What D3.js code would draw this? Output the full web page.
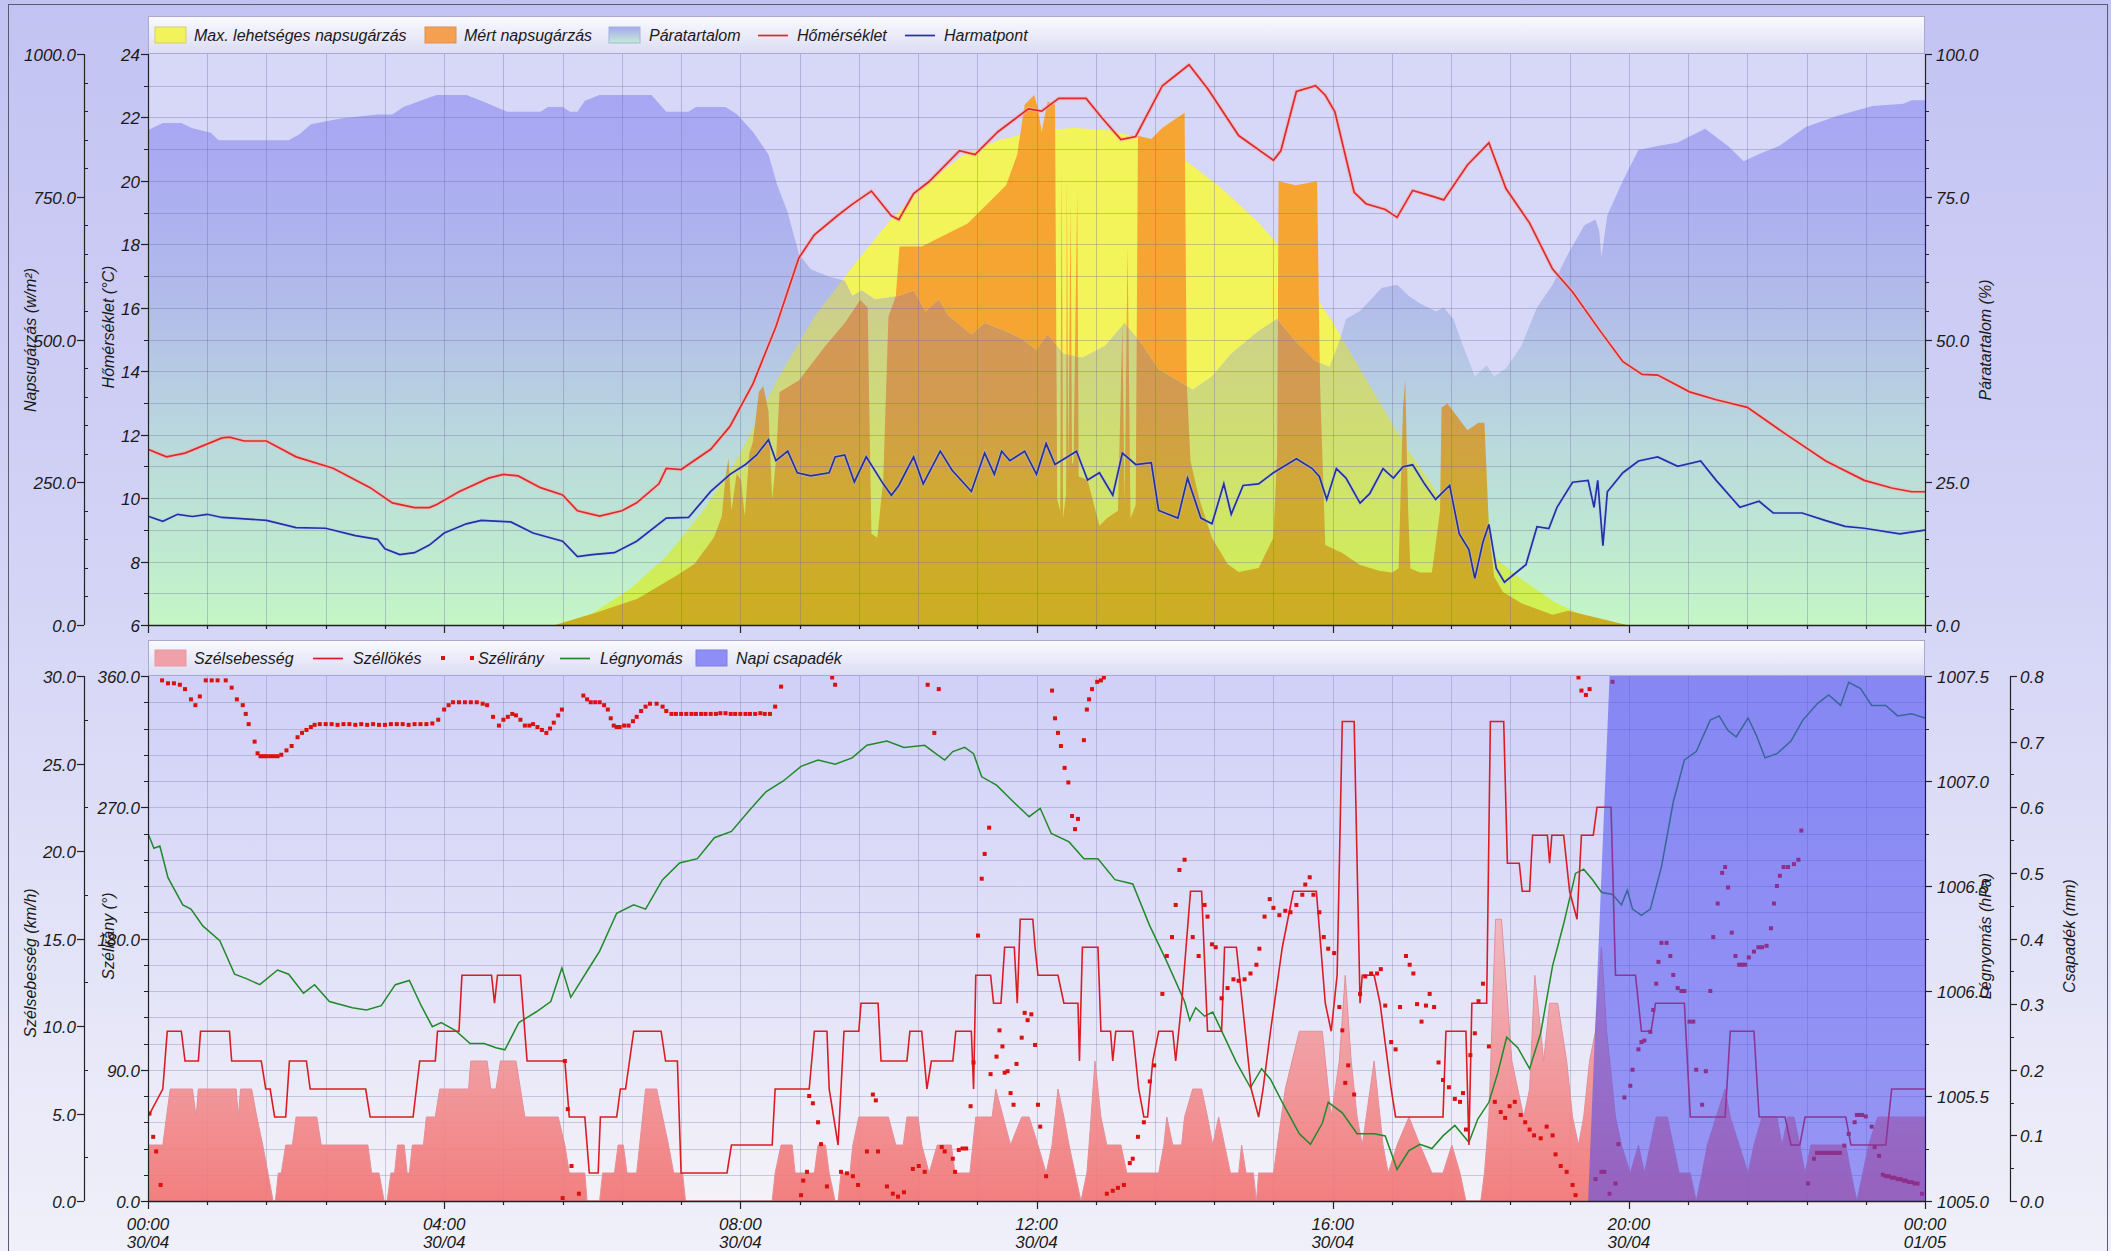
<!DOCTYPE html>
<html><head><meta charset="utf-8">
<script src="https://cdn.jsdelivr.net/npm/d3@7"></script>
<style>
html,body{margin:0;padding:0;background:#fff;overflow:hidden;}
svg text{font-family:"Liberation Sans",Arial,sans-serif;font-style:italic;fill:#1a1a1a;}
</style></head><body>
<svg id="chart" width="2111" height="1251"></svg>
<script>
// ---------------- DATA (time in hours from 00:00 30/04) ----------------
const tickHours = [0,4,8,12,16,20,24];
const tickTimes = ["00:00","04:00","08:00","12:00","16:00","20:00","00:00"];
const tickDates = ["30/04","30/04","30/04","30/04","30/04","30/04","01/05"];

const topLegend = ["Max. lehetséges napsugárzás","Mért napsugárzás","Páratartalom","Hőmérséklet","Harmatpont"];
const bottomLegend = ["Szélsebesség","Széllökés","Szélirány","Légnyomás","Napi csapadék"];

// Páratartalom (%)
const humidity = [[0,86.7],[0.2,87.9],[0.45,87.9],[0.6,87],[0.85,86.2],[0.95,84.9],[1.9,84.9],[2.05,86],[2.2,87.7],[2.6,88.7],[3.1,89.4],[3.3,89.4],[3.45,90.7],[3.8,92.4],[3.9,92.8],[4.3,92.8],[4.5,91.8],[4.7,90.7],[4.85,89.9],[5.3,89.9],[5.4,90.7],[5.6,90.7],[5.7,89.9],[5.8,89.9],[5.9,91.8],[6.1,92.8],[6.8,92.8],[7.0,89.9],[7.3,89.9],[7.4,90.7],[7.8,90.7],[7.95,89.5],[8.17,86.4],[8.38,82.4],[8.5,77],[8.64,72.3],[8.79,65],[8.95,62.3],[9.2,61],[9.41,60.3],[9.51,57.6],[9.64,58.6],[9.82,57],[10.14,57.6],[10.34,58.6],[10.5,54.9],[10.68,57],[10.81,54.2],[11.12,50.9],[11.3,52.9],[11.58,51.5],[11.79,50.2],[12.0,48.2],[12.15,50.9],[12.36,47.5],[12.62,46.8],[12.93,48.9],[13.19,52.9],[13.44,48.9],[13.65,44.8],[13.91,42.8],[14.11,41.2],[14.37,43.5],[14.63,47.5],[15.0,51.5],[15.25,53.6],[15.51,49.5],[15.77,46.2],[15.96,45.2],[16.1,50],[16.18,53.6],[16.37,55],[16.66,59],[16.87,59.6],[17.03,57.6],[17.18,56.3],[17.4,54.9],[17.5,55.6],[17.63,53.6],[17.76,48.9],[17.92,43.5],[18.08,45.5],[18.18,43.5],[18.34,44.9],[18.55,48.9],[18.76,55.6],[18.97,59.6],[19.18,65],[19.4,70],[19.55,71],[19.6,69],[19.63,64.4],[19.71,71.8],[19.92,77.8],[20.13,83.2],[20.39,83.9],[20.66,84.5],[21.03,86.9],[21.34,83.9],[21.55,81.2],[21.76,82.5],[22.03,83.9],[22.39,87.2],[22.82,89.2],[23.29,90.9],[23.71,91.3],[23.82,91.9],[24,91.9]];

// Hőmérséklet (°C)
const temperature = [[0,11.54],[0.25,11.3],[0.5,11.42],[1.0,11.9],[1.1,11.92],[1.3,11.8],[1.6,11.8],[2.0,11.3],[2.5,10.94],[3.0,10.33],[3.3,9.85],[3.6,9.7],[3.8,9.7],[3.9,9.8],[4.2,10.2],[4.6,10.63],[4.8,10.75],[5.0,10.7],[5.3,10.33],[5.6,10.1],[5.8,9.6],[6.1,9.43],[6.4,9.6],[6.6,9.85],[6.9,10.45],[7.0,10.94],[7.2,10.9],[7.6,11.54],[7.86,12.26],[8.17,13.6],[8.48,15.4],[8.79,17.57],[9.0,18.3],[9.31,18.9],[9.51,19.26],[9.77,19.68],[10.04,18.9],[10.14,18.78],[10.34,19.6],[10.55,19.98],[10.96,20.95],[11.17,20.83],[11.48,21.55],[11.89,22.27],[12.07,22.2],[12.3,22.6],[12.67,22.6],[12.88,22.0],[13.14,21.3],[13.34,21.4],[13.7,23.0],[14.06,23.66],[14.32,22.88],[14.73,21.43],[15.2,20.65],[15.3,20.95],[15.51,22.82],[15.77,23.0],[15.9,22.7],[16.03,22.18],[16.29,19.64],[16.45,19.28],[16.71,19.1],[16.87,18.85],[17.08,19.7],[17.34,19.52],[17.5,19.4],[17.82,20.5],[18.11,21.2],[18.34,19.76],[18.66,18.67],[18.97,17.22],[19.24,16.5],[19.61,15.28],[19.92,14.3],[20.18,13.9],[20.39,13.88],[20.82,13.35],[21.18,13.1],[21.6,12.86],[22.13,12.0],[22.66,11.17],[23.18,10.56],[23.55,10.32],[23.82,10.2],[24,10.2]];

// Harmatpont (°C)
const dewpoint = [[0,9.43],[0.2,9.27],[0.4,9.49],[0.6,9.42],[0.8,9.49],[1.0,9.39],[1.6,9.3],[2.0,9.07],[2.4,9.05],[2.8,8.82],[3.1,8.7],[3.2,8.4],[3.4,8.22],[3.6,8.28],[3.8,8.52],[4.0,8.9],[4.3,9.19],[4.5,9.3],[4.9,9.25],[5.2,8.9],[5.6,8.64],[5.8,8.16],[6.0,8.22],[6.3,8.28],[6.6,8.64],[7.0,9.37],[7.3,9.39],[7.6,10.21],[7.86,10.75],[8.07,11.06],[8.22,11.36],[8.38,11.84],[8.48,11.18],[8.64,11.48],[8.77,10.8],[8.95,10.7],[9.2,10.8],[9.28,11.3],[9.41,11.36],[9.54,10.51],[9.7,11.3],[9.93,10.45],[10.04,10.09],[10.14,10.4],[10.34,11.3],[10.47,10.45],[10.7,11.48],[10.86,10.88],[11.12,10.21],[11.3,11.42],[11.43,10.75],[11.53,11.48],[11.64,11.18],[11.84,11.48],[12.0,10.75],[12.13,11.72],[12.25,11.06],[12.54,11.48],[12.69,10.57],[12.85,10.8],[13.03,10.09],[13.16,11.42],[13.34,11.06],[13.55,11.12],[13.65,9.61],[13.91,9.37],[14.04,10.63],[14.22,9.37],[14.37,9.19],[14.53,10.45],[14.63,9.49],[14.79,10.4],[15.0,10.45],[15.2,10.8],[15.51,11.24],[15.72,10.94],[15.82,10.68],[15.92,9.96],[16.05,10.93],[16.18,10.63],[16.37,9.84],[16.5,10.14],[16.68,10.93],[16.82,10.63],[16.95,10.99],[17.08,11.05],[17.24,10.45],[17.39,9.96],[17.58,10.4],[17.71,8.87],[17.84,8.38],[17.92,7.47],[18.03,8.62],[18.11,9.17],[18.21,7.78],[18.32,7.35],[18.45,7.6],[18.61,7.9],[18.76,9.1],[18.92,9.04],[19.03,9.71],[19.24,10.5],[19.45,10.56],[19.53,9.71],[19.58,10.56],[19.65,8.5],[19.71,10.2],[19.92,10.8],[20.13,11.17],[20.39,11.3],[20.66,11.0],[20.97,11.17],[21.18,10.56],[21.5,9.71],[21.76,9.9],[21.95,9.53],[22.34,9.53],[22.66,9.29],[22.92,9.11],[23.18,9.05],[23.66,8.87],[24,8.99]];

// Max. lehetséges napsugárzás (W/m²)
const maxRadiation = [[5.5,0],[6.0,20],[6.5,62],[7.0,120],[7.5,200],[8.0,300],[8.5,430],[9.0,540],[9.5,625],[10.0,705],[10.5,772],[11.0,822],[11.5,850],[12.0,864],[12.5,871],[13.0,866],[13.5,850],[14.0,815],[14.5,765],[15.0,705],[15.5,630],[16.0,530],[16.5,420],[17.0,310],[17.5,215],[18.0,140],[18.5,85],[19.0,40],[19.5,10],[20.0,0]];

// Mért napsugárzás (W/m²)
const radiation = [[5.5,0],[6.09,23],[6.61,46],[7.13,86],[7.38,107],[7.64,153],[7.75,190],[7.8,260],[7.84,292],[7.88,200],[7.95,265],[8.01,254],[8.06,190],[8.12,300],[8.17,321],[8.25,408],[8.31,418],[8.38,375],[8.43,220],[8.48,287],[8.53,408],[8.79,428],[9.15,489],[9.41,529],[9.62,569],[9.72,556],[9.77,160],[9.85,153],[9.93,254],[10.0,540],[10.1,576],[10.15,663],[10.45,663],[10.76,683],[11.07,703],[11.38,743],[11.59,770],[11.74,824],[11.84,911],[11.97,928],[12.02,904],[12.07,864],[12.15,917],[12.25,911],[12.28,220],[12.32,200],[12.34,804],[12.36,187],[12.4,230],[12.41,790],[12.43,254],[12.46,743],[12.48,280],[12.5,287],[12.55,757],[12.57,260],[12.69,254],[12.85,174],[12.95,187],[13.1,200],[13.16,529],[13.19,210],[13.23,663],[13.27,187],[13.34,210],[13.37,857],[13.55,851],[13.7,871],[13.85,884],[14.0,897],[14.03,422],[14.08,287],[14.2,220],[14.37,153],[14.58,107],[14.73,93],[15.0,100],[15.2,153],[15.25,300],[15.27,777],[15.5,770],[15.79,777],[15.83,420],[15.9,140],[16.13,126],[16.37,105],[16.63,95],[16.8,92],[16.89,99],[16.95,380],[16.98,430],[17.02,200],[17.05,99],[17.18,92],[17.34,92],[17.45,200],[17.47,381],[17.55,388],[17.82,341],[17.97,354],[18.05,354],[18.11,173],[18.18,85],[18.3,58],[18.55,38],[18.97,18],[19.18,25],[19.5,15],[19.97,0]];

// Szélsebesség (km/h)
const windSpeed = [[0,3.2],[0.2,3.2],[0.3,6.4],[0.6,6.4],[0.65,4.8],[0.68,6.4],[1.19,6.4],[1.22,4.8],[1.25,6.4],[1.4,6.4],[1.47,4.8],[1.55,3.2],[1.62,1.6],[1.69,0],[1.72,0],[1.76,1.6],[1.8,1.6],[1.86,3.2],[1.95,3.2],[2.0,4.8],[2.28,4.8],[2.34,3.2],[2.97,3.2],[3.02,1.6],[3.12,1.6],[3.19,0],[3.23,0],[3.28,1.6],[3.33,1.6],[3.37,3.2],[3.46,3.2],[3.5,1.6],[3.53,1.6],[3.57,3.2],[3.72,3.2],[3.76,4.8],[3.88,4.8],[3.94,6.4],[4.33,6.4],[4.36,8.0],[4.58,8.0],[4.63,6.4],[4.7,6.4],[4.76,8.0],[4.97,8.0],[5.03,6.4],[5.09,4.8],[5.54,4.8],[5.63,3.2],[5.69,1.6],[5.9,1.6],[5.93,0],[6.1,0],[6.14,1.6],[6.3,1.6],[6.35,3.2],[6.42,3.2],[6.47,1.6],[6.6,1.6],[6.68,4.8],[6.72,6.4],[6.87,6.4],[6.95,4.8],[7.03,3.2],[7.1,1.6],[7.22,1.6],[7.26,0],[8.43,0],[8.47,1.6],[8.55,3.2],[8.7,3.2],[8.74,1.6],[9.0,1.6],[9.05,3.2],[9.15,3.2],[9.2,1.6],[9.28,0],[9.32,0],[9.36,1.6],[9.48,1.6],[9.52,3.2],[9.6,4.8],[10.0,4.8],[10.1,3.2],[10.2,3.2],[10.25,4.8],[10.4,4.8],[10.45,3.2],[10.55,1.6],[10.66,3.2],[10.85,3.2],[10.9,1.6],[11.1,1.6],[11.18,4.8],[11.4,4.8],[11.45,6.4],[11.55,4.8],[11.65,3.2],[11.8,4.8],[11.9,4.8],[12.02,3.2],[12.13,1.6],[12.21,3.2],[12.29,6.4],[12.37,4.8],[12.44,3.2],[12.52,1.6],[12.6,0],[12.68,1.6],[12.71,3.2],[12.79,8.0],[12.87,4.8],[12.95,3.2],[13.14,3.2],[13.22,1.6],[13.65,1.6],[13.72,3.2],[13.76,4.8],[13.84,3.2],[13.96,3.2],[14.0,4.8],[14.11,6.4],[14.23,6.4],[14.31,4.8],[14.38,3.2],[14.46,4.8],[14.54,3.2],[14.62,1.6],[14.73,1.6],[14.77,3.2],[14.83,1.6],[14.93,1.6],[14.97,0],[15.0,1.6],[15.2,1.6],[15.36,6.4],[15.55,9.7],[15.86,9.7],[15.98,4.8],[16.09,8.0],[16.17,12.9],[16.25,8.0],[16.33,4.8],[16.4,3.2],[16.56,8.0],[16.68,3.2],[16.75,1.6],[16.87,3.2],[17.03,4.8],[17.18,3.2],[17.34,1.6],[17.49,1.6],[17.61,3.2],[17.72,1.6],[17.8,0],[18.0,0],[18.05,1.6],[18.11,4.8],[18.2,16.1],[18.28,16.1],[18.42,8.0],[18.5,6.4],[18.58,4.8],[18.66,6.4],[18.73,12.9],[18.85,8.0],[18.93,11.3],[19.04,11.3],[19.16,8.0],[19.24,4.8],[19.32,3.2],[19.39,4.8],[19.47,8.0],[19.55,9.7],[19.63,14.5],[19.7,9.7],[19.82,4.8],[19.9,3.2],[20.02,1.6],[20.13,3.2],[20.21,1.6],[20.29,3.2],[20.37,4.8],[20.52,4.8],[20.6,3.2],[20.68,1.6],[20.83,1.6],[20.91,0],[20.99,1.6],[21.06,3.2],[21.18,4.8],[21.3,6.4],[21.37,4.8],[21.49,3.2],[21.61,1.6],[21.69,3.2],[21.8,4.8],[22.0,4.8],[22.07,3.2],[22.15,4.8],[22.23,4.8],[22.31,3.2],[22.38,1.6],[22.46,3.2],[22.93,3.2],[23.0,1.6],[23.08,0],[23.16,1.6],[23.24,3.2],[23.36,4.8],[24,4.8]];

// Széllökés (km/h)
const windGust = [[0,4.8],[0.2,6.4],[0.26,9.7],[0.45,9.7],[0.5,8.0],[0.68,8.0],[0.71,9.7],[1.1,9.7],[1.13,8.0],[1.53,8.0],[1.59,6.4],[1.65,6.4],[1.71,4.8],[1.86,4.8],[1.91,8.0],[2.14,8.0],[2.19,6.4],[2.94,6.4],[3.0,4.8],[3.58,4.8],[3.67,8.0],[3.88,8.0],[3.91,9.7],[4.2,9.7],[4.24,12.9],[4.64,12.9],[4.68,11.3],[4.72,12.9],[5.03,12.9],[5.12,8.0],[5.63,8.0],[5.69,4.8],[5.9,4.8],[5.96,1.6],[6.08,1.6],[6.11,4.8],[6.33,4.8],[6.38,6.4],[6.45,6.4],[6.56,9.7],[6.93,9.7],[6.99,8.0],[7.15,8.0],[7.2,1.6],[7.82,1.6],[7.88,3.2],[8.43,3.2],[8.47,6.4],[8.93,6.4],[9.0,9.7],[9.17,9.7],[9.2,6.4],[9.32,3.2],[9.4,9.7],[9.6,9.7],[9.63,11.3],[9.86,11.3],[9.9,8.0],[10.25,8.0],[10.29,9.7],[10.45,9.7],[10.52,6.4],[10.58,8.0],[10.87,8.0],[10.91,9.7],[11.12,9.7],[11.15,6.4],[11.18,12.9],[11.38,12.9],[11.42,11.3],[11.52,11.3],[11.57,14.5],[11.7,14.5],[11.74,11.3],[11.78,16.1],[11.95,16.1],[11.98,14.5],[12.02,12.9],[12.29,12.9],[12.37,11.3],[12.56,11.3],[12.58,8.0],[12.62,14.5],[12.83,14.5],[12.87,9.7],[13.0,9.7],[13.03,8.0],[13.07,9.7],[13.3,9.7],[13.38,6.4],[13.45,4.8],[13.5,4.8],[13.57,8.0],[13.65,9.7],[13.84,9.7],[13.88,8.0],[13.96,11.3],[14.08,17.7],[14.23,17.7],[14.31,9.7],[14.5,9.7],[14.54,14.5],[14.7,14.5],[14.78,11.3],[14.9,6.4],[15.0,4.8],[15.06,6.4],[15.16,9.7],[15.32,14.5],[15.47,17.7],[15.78,17.7],[15.9,11.3],[15.98,9.7],[16.06,12.9],[16.13,27.4],[16.29,27.4],[16.37,11.3],[16.4,12.9],[16.56,12.9],[16.64,11.3],[16.79,6.4],[16.85,4.8],[17.49,4.8],[17.53,9.7],[17.8,9.7],[17.84,3.2],[17.88,11.3],[18.08,11.3],[18.13,27.4],[18.31,27.4],[18.36,19.3],[18.52,19.3],[18.56,17.7],[18.66,17.7],[18.7,20.9],[18.9,20.9],[18.93,19.3],[18.96,20.9],[19.12,20.9],[19.2,17.7],[19.3,16.1],[19.36,20.9],[19.52,20.9],[19.57,22.5],[19.76,22.5],[19.82,12.9],[20.09,12.9],[20.17,9.7],[20.3,9.7],[20.36,11.3],[20.75,11.3],[20.83,4.8],[21.3,4.8],[21.37,9.7],[21.69,9.7],[21.76,4.8],[22.11,4.8],[22.19,3.2],[22.31,3.2],[22.38,4.8],[22.93,4.8],[23.0,3.2],[23.47,3.2],[23.55,6.4],[24,6.4]];

// Szélirány (°)
const windDir = [[0.02,60],[0.07,44],[0.11,34],[0.17,11],[0.19,357],[0.27,355],[0.35,355],[0.43,354],[0.5,351],[0.58,344],[0.64,340],[0.7,346],[0.78,357],[0.86,357],[0.94,357],[1.05,357],[1.13,352],[1.2,344],[1.28,340],[1.32,334],[1.36,327],[1.44,315],[1.48,307],[1.52,305],[1.56,305],[1.6,305],[1.65,305],[1.7,305],[1.75,305],[1.8,306],[1.87,309],[1.94,312],[2.02,318],[2.08,321],[2.14,323],[2.2,325],[2.25,326.5],[2.32,327],[2.4,327],[2.48,327],[2.56,326.5],[2.64,327],[2.72,327],[2.8,326.5],[2.88,327],[2.96,326.5],[3.04,327],[3.12,326.5],[3.2,326.5],[3.28,327],[3.36,327],[3.44,327],[3.52,326.5],[3.6,327],[3.68,327],[3.76,327],[3.84,327.5],[3.92,330],[4.0,337],[4.06,340],[4.12,342],[4.2,342],[4.28,342],[4.36,342],[4.44,342],[4.52,341],[4.58,340],[4.66,332],[4.74,326],[4.8,330],[4.86,332],[4.92,334],[4.97,333],[5.03,330],[5.09,326],[5.15,326],[5.2,327],[5.26,325],[5.32,323],[5.38,321],[5.43,324],[5.48,328],[5.54,333],[5.59,337],[5.63,96],[5.67,63],[5.72,24],[5.6,2],[5.82,5],[5.88,346.6],[5.93,344],[5.98,342],[6.04,342],[6.1,342],[6.16,340],[6.21,337],[6.25,331],[6.29,326],[6.33,325],[6.37,325],[6.43,326],[6.49,326],[6.55,329],[6.6,332],[6.66,336],[6.72,339],[6.78,341],[6.87,341],[6.95,339],[7.0,336],[7.07,334],[7.13,334],[7.2,334],[7.27,334],[7.34,334],[7.4,334],[7.47,334],[7.53,334],[7.6,334],[7.67,334],[7.73,334.5],[7.8,334.5],[7.87,334],[7.93,334],[8.0,334],[8.07,334],[8.13,334],[8.2,334],[8.27,334.5],[8.33,334],[8.4,334],[8.47,339],[8.55,352.7],[8.82,4],[8.85,14],[8.9,20],[8.93,72],[8.98,67],[9.05,54],[9.09,39],[9.17,10],[9.24,359],[9.28,354],[9.36,20],[9.44,19],[9.52,17],[9.59,11],[9.71,34],[9.79,73],[9.83,69],[9.86,34],[9.98,10],[10.06,5],[10.13,3],[10.21,6],[10.33,22],[10.41,24],[10.49,20],[10.53,354],[10.62,321],[10.68,351],[10.72,37],[10.76,34],[10.87,29],[10.9,20],[10.95,35],[11.0,36],[11.05,36],[11.11,65],[11.15,95],[11.21,182],[11.26,221],[11.3,238],[11.36,256],[11.38,87],[11.46,99],[11.5,117],[11.54,106],[11.57,88],[11.61,89],[11.65,74],[11.69,66],[11.73,94],[11.8,112],[11.84,129],[11.88,124],[11.93,128],[11.98,107],[12.02,66],[12.05,51],[12.13,17],[12.21,350],[12.25,331],[12.29,321],[12.33,312],[12.38,297],[12.43,287],[12.48,264],[12.52,255],[12.56,262],[12.64,316],[12.68,337],[12.71,344],[12.75,351],[12.82,356],[12.87,357],[12.91,359],[12.95,5],[13.03,7],[13.1,9],[13.18,11],[13.26,26],[13.3,29],[13.37,44],[13.45,54],[13.53,82],[13.59,93],[13.7,142],[13.76,168],[13.83,181],[13.88,203],[13.93,227],[14.0,234],[14.11,181],[14.19,168],[14.27,203],[14.31,195],[14.37,176],[14.42,174],[14.5,139],[14.58,146],[14.66,152],[14.73,151],[14.81,152],[14.89,156],[14.97,162],[15.01,173],[15.08,195],[15.15,207],[15.2,201],[15.28,196],[15.36,199],[15.43,198],[15.51,203],[15.59,210],[15.63,217],[15.69,222],[15.74,210],[15.82,198],[15.88,181],[15.94,173],[16.02,170],[16.09,133],[16.13,117],[16.17,81],[16.21,93],[16.29,73],[16.37,142],[16.44,154],[16.52,156],[16.6,156],[16.65,159],[16.71,134],[16.79,109],[16.85,104],[16.91,133],[16.99,168],[17.04,162],[17.09,156],[17.14,135],[17.2,123],[17.26,134],[17.31,142],[17.37,133],[17.43,95],[17.49,83],[17.57,78],[17.65,70],[17.72,68],[17.76,74],[17.8,49],[17.86,100],[17.92,115],[17.97,137],[18.03,149],[18.11,106],[18.19,68],[18.27,61],[18.33,57],[18.39,65],[18.46,68],[18.54,59],[18.6,54],[18.66,49],[18.72,45],[18.81,43],[18.89,51],[18.97,45],[19.01,32],[19.08,24],[19.16,20],[19.24,11],[19.28,4],[19.32,359],[19.36,350],[19.42,347],[19.47,351],[19.55,15],[19.63,20],[19.67,20],[19.74,5],[19.78,356],[19.82,12],[19.86,39],[19.94,71],[20.02,79],[20.05,90],[20.13,104],[20.17,109],[20.21,110],[20.29,116],[20.33,131],[20.37,149],[20.4,164],[20.44,177],[20.51,177],[20.56,168],[20.6,155],[20.66,146],[20.71,144],[20.75,144],[20.82,123],[20.87,123],[20.91,90],[20.99,66],[21.04,89],[21.1,144],[21.14,181],[21.2,204],[21.26,225],[21.3,229],[21.34,215],[21.39,184],[21.44,168],[21.49,162],[21.53,162],[21.57,162],[21.62,167],[21.69,171],[21.75,174],[21.8,174],[21.86,175],[21.92,187],[21.96,204],[22.0,216],[22.04,223],[22.09,229],[22.15,229],[22.23,231],[22.29,234],[22.33,254],[22.42,12],[22.5,29],[22.54,33],[22.58,33],[22.62,33],[22.66,33],[22.7,33],[22.74,33],[22.77,33],[22.81,33],[22.85,33],[22.91,38],[22.97,46],[23.05,54],[23.08,59],[23.12,59],[23.15,59],[23.2,58],[23.28,51],[23.32,37],[23.38,31],[23.43,18],[23.47,17],[23.51,17],[23.55,16],[23.59,16],[23.63,15],[23.67,15],[23.71,14],[23.74,14],[23.78,13],[23.82,13],[23.86,12],[23.9,12],[23.96,5]];

// Légnyomás (hPa)
const pressure = [[0,1006.75],[0.08,1006.68],[0.16,1006.69],[0.27,1006.54],[0.47,1006.41],[0.58,1006.39],[0.74,1006.31],[0.97,1006.24],[1.17,1006.08],[1.32,1006.06],[1.51,1006.03],[1.75,1006.1],[1.9,1006.08],[2.1,1005.99],[2.25,1006.03],[2.45,1005.95],[2.76,1005.92],[2.95,1005.91],[3.15,1005.93],[3.34,1006.03],[3.53,1006.05],[3.69,1005.93],[3.84,1005.83],[3.96,1005.85],[4.16,1005.81],[4.35,1005.75],[4.54,1005.75],[4.7,1005.73],[4.82,1005.72],[5.01,1005.85],[5.24,1005.9],[5.44,1005.95],[5.59,1006.11],[5.71,1005.97],[5.94,1006.1],[6.1,1006.19],[6.33,1006.37],[6.56,1006.41],[6.72,1006.39],[6.95,1006.53],[7.18,1006.61],[7.42,1006.63],[7.65,1006.73],[7.88,1006.76],[8.12,1006.86],[8.35,1006.95],[8.58,1007.0],[8.82,1007.07],[9.05,1007.1],[9.28,1007.08],[9.51,1007.11],[9.71,1007.17],[9.98,1007.19],[10.21,1007.16],[10.49,1007.17],[10.64,1007.13],[10.76,1007.1],[10.87,1007.14],[11.03,1007.16],[11.15,1007.13],[11.26,1007.02],[11.46,1006.98],[11.69,1006.9],[11.9,1006.83],[12.05,1006.87],[12.2,1006.75],[12.44,1006.71],[12.64,1006.63],[12.83,1006.63],[13.06,1006.53],[13.3,1006.51],[13.53,1006.31],[13.76,1006.14],[14.0,1005.95],[14.07,1005.86],[14.15,1005.92],[14.27,1005.88],[14.38,1005.9],[14.5,1005.81],[14.7,1005.66],[14.89,1005.54],[15.04,1005.63],[15.16,1005.58],[15.32,1005.47],[15.55,1005.32],[15.7,1005.27],[15.86,1005.37],[15.94,1005.47],[16.13,1005.42],[16.33,1005.32],[16.56,1005.32],[16.71,1005.31],[16.87,1005.15],[17.03,1005.24],[17.18,1005.27],[17.34,1005.25],[17.49,1005.31],[17.65,1005.36],[17.84,1005.28],[17.96,1005.39],[18.11,1005.47],[18.23,1005.61],[18.35,1005.78],[18.5,1005.73],[18.66,1005.63],[18.81,1005.8],[18.97,1006.12],[19.12,1006.32],[19.28,1006.56],[19.39,1006.58],[19.51,1006.53],[19.63,1006.47],[19.78,1006.46],[19.9,1006.41],[19.98,1006.48],[20.05,1006.39],[20.17,1006.36],[20.29,1006.39],[20.44,1006.59],[20.6,1006.9],[20.75,1007.1],[20.91,1007.14],[21.1,1007.29],[21.22,1007.31],[21.34,1007.24],[21.45,1007.21],[21.61,1007.3],[21.72,1007.22],[21.84,1007.11],[22.0,1007.13],[22.19,1007.19],[22.35,1007.29],[22.55,1007.37],[22.7,1007.41],[22.86,1007.36],[22.97,1007.47],[23.13,1007.44],[23.28,1007.36],[23.47,1007.36],[23.63,1007.31],[23.82,1007.32],[24,1007.3]];

// Napi csapadék (mm)
const dailyRain = [[19.45,0],[19.74,0.8],[24,0.8]];

// ---------------- LAYOUT ----------------
const W=2111,H=1251;
const PL=148, PR=1925, T1=54, B1=625, T2=676, B2=1201;
const svg=d3.select('#chart');
const defs=svg.append('defs');
function grad(id, stops, y1, y2){
  const g=defs.append('linearGradient').attr('id',id).attr('gradientUnits','userSpaceOnUse')
    .attr('x1',0).attr('x2',0).attr('y1',y1).attr('y2',y2);
  stops.forEach(s=>g.append('stop').attr('offset',s[0]).attr('stop-color',s[1]).attr('stop-opacity',s[2]===undefined?1:s[2]));
}
grad('gPage',[[0,'#c3c3f3'],[0.45,'#d3d3f6'],[1,'#f0f0fa']],0,H);
grad('gHum',[[0,'#a4a4f4'],[0.18,'#aaaaf2'],[0.44,'#b2bcea'],[0.65,'#b9d6de'],[0.85,'#bee8d2'],[1,'#c4f6c6']],T1,B1);
grad('gYelUnder',[[0,'#c4c0b4'],[0.4,'#cccc90'],[0.7,'#d0e070'],[1,'#d0f250']],T1,B1);
grad('gOrUnder',[[0,'#cc8c78'],[0.4,'#d4945e'],[0.62,'#d29c4e'],[0.78,'#cfaa30'],[1,'#ccae22']],T1,B1);
grad('gBot',[[0,'#d0d0f8'],[0.5,'#e0e0f8'],[1,'#f4f2f8']],T2,B2);
grad('gWind',[[0,'#f8d4da',0.85],[0.45,'#f2b2b8',0.85],[1,'#f27272',0.9]],T2,B2);
grad('gLeg',[[0,'#fafaff'],[1,'#dcdcf4']],0,1);
defs.select('#gLeg').attr('gradientUnits','objectBoundingBox');
grad('gHumSw',[[0,'#a8a8f0'],[1,'#c4ecd4']],0,1);
defs.select('#gHumSw').attr('gradientUnits','objectBoundingBox');

// scales
const x=d3.scaleLinear([0,24],[PL,PR]);
const yRad=d3.scaleLinear([0,1000],[B1,T1]);
const yTemp=d3.scaleLinear([6,24],[B1,T1]);
const yHum=d3.scaleLinear([0,100],[B1,T1]);
const yWs=d3.scaleLinear([0,30],[B2,T2]);
const yDir=d3.scaleLinear([0,360],[B2,T2]);
const yP=d3.scaleLinear([1005,1007.5],[B2,T2]);
const yRain=d3.scaleLinear([0,0.8],[B2,T2]);

// page background
svg.append('rect').attr('width',W).attr('height',H).attr('fill','url(#gPage)');
svg.append('rect').attr('x',8.5).attr('y',4.5).attr('width',2099).attr('height',1250).attr('fill','none').attr('stroke','#5a5a70').attr('stroke-width',1);

// clip paths
defs.append('clipPath').attr('id','cTop').append('rect').attr('x',PL).attr('y',T1).attr('width',PR-PL).attr('height',B1-T1);
defs.append('clipPath').attr('id','cBot').append('rect').attr('x',PL).attr('y',T2).attr('width',PR-PL).attr('height',B2-T2);
const humIn=d3.area().x(d=>x(d[0])).y0(B1).y1(d=>yHum(d[1]));
const humOut=d3.area().x(d=>x(d[0])).y0(T1-2).y1(d=>yHum(d[1]));
defs.append('clipPath').attr('id','cHumIn').append('path').attr('d',humIn(humidity));
defs.append('clipPath').attr('id','cHumOut').append('path').attr('d',humOut(humidity));

// ---------- TOP PLOT ----------
const topPlot=svg.append('g').attr('clip-path','url(#cTop)');
topPlot.append('rect').attr('x',PL).attr('y',T1).attr('width',PR-PL).attr('height',B1-T1).attr('fill','#d7d7f7');
topPlot.append('path').attr('d',humIn(humidity)).attr('fill','url(#gHum)');
const radArea=d3.area().x(d=>x(d[0])).y0(B1).y1(d=>yRad(d[1]));
const gOut=topPlot.append('g').attr('clip-path','url(#cHumOut)');
const gIn=topPlot.append('g').attr('clip-path','url(#cHumIn)');
gOut.append('path').attr('d',radArea(maxRadiation)).attr('fill','#f3f35a');
gIn.append('path').attr('d',radArea(maxRadiation)).attr('fill','url(#gYelUnder)');
gOut.append('path').attr('d',radArea(radiation)).attr('fill','#f6a432');
gIn.append('path').attr('d',radArea(radiation)).attr('fill','url(#gOrUnder)');
// grid
const gridTop=topPlot.append('g').attr('stroke','#6a6aa0').attr('stroke-opacity',0.35).attr('stroke-width',1);
d3.range(7,24).forEach(t=>gridTop.append('line').attr('x1',PL).attr('x2',PR).attr('y1',Math.round(yTemp(t))+0.5).attr('y2',Math.round(yTemp(t))+0.5));
d3.range(1,30).forEach(i=>{const xx=Math.round(x(i*0.8))+0.5; gridTop.append('line').attr('x1',xx).attr('x2',xx).attr('y1',T1).attr('y2',B1);});
// lines
const tLine=d3.line().x(d=>x(d[0])).y(d=>yTemp(d[1]));
topPlot.append('path').attr('d',tLine(temperature)).attr('fill','none').attr('stroke','#f4b0b0').attr('stroke-width',4).attr('stroke-opacity',0.6);
topPlot.append('path').attr('d',tLine(temperature)).attr('fill','none').attr('stroke','#e02a2a').attr('stroke-width',1.7);
topPlot.append('path').attr('d',tLine(dewpoint)).attr('fill','none').attr('stroke','#b8c4f0').attr('stroke-width',3.5).attr('stroke-opacity',0.4);
topPlot.append('path').attr('d',tLine(dewpoint)).attr('fill','none').attr('stroke','#2430a8').attr('stroke-width',1.7);

// ---------- BOTTOM PLOT ----------
const botPlot=svg.append('g').attr('clip-path','url(#cBot)');
botPlot.append('rect').attr('x',PL).attr('y',T2).attr('width',PR-PL).attr('height',B2-T2).attr('fill','url(#gBot)');
const gridBot=botPlot.append('g').attr('stroke','#6a6aa0').attr('stroke-opacity',0.3).attr('stroke-width',1);
d3.range(1,20).forEach(i=>{const yy=Math.round(yDir(i*18))+0.5; gridBot.append('line').attr('x1',PL).attr('x2',PR).attr('y1',yy).attr('y2',yy);});
d3.range(1,30).forEach(i=>{const xx=Math.round(x(i*0.8))+0.5; gridBot.append('line').attr('x1',xx).attr('x2',xx).attr('y1',T2).attr('y2',B2);});
const wsArea=d3.area().x(d=>x(d[0])).y0(B2).y1(d=>yWs(d[1]));
botPlot.append('path').attr('d',wsArea(windSpeed)).attr('fill','url(#gWind)').attr('stroke','#e2909a').attr('stroke-width',1);
botPlot.append('path').attr('d',d3.line().x(d=>x(d[0])).y(d=>yP(d[1]))(pressure)).attr('fill','none').attr('stroke','#1f8a2a').attr('stroke-width',1.5);
botPlot.append('path').attr('d',d3.line().x(d=>x(d[0])).y(d=>yWs(d[1]))(windGust)).attr('fill','none').attr('stroke','#dc1c24').attr('stroke-width',1.6);
botPlot.append('g').selectAll('rect').data(windDir).join('rect')
  .attr('x',d=>x(d[0])-2).attr('y',d=>yDir(d[1])-2).attr('width',4).attr('height',4).attr('fill','#dd1010');
botPlot.append('path').attr('d',d3.area().x(d=>x(d[0])).y0(B2).y1(d=>yRain(d[1]))(dailyRain)).attr('fill','#4a4af0').attr('fill-opacity',0.55);

// ---------- AXES ----------
const axG=svg.append('g');
function vAxis(xPos, scale, majors, fmt, minors, side, labelX, anchor, tickLen, minorSide){
  const g=axG.append('g');
  const r=scale.range();
  g.append('line').attr('x1',xPos+0.5).attr('x2',xPos+0.5).attr('y1',r[1]).attr('y2',r[0]).attr('stroke','#222').attr('stroke-width',1.2);
  majors.forEach(v=>{
    const yy=Math.round(scale(v))+0.5;
    g.append('line').attr('x1',xPos).attr('x2',xPos+side*tickLen).attr('y1',yy).attr('y2',yy).attr('stroke','#222').attr('stroke-width',1.2);
    g.append('text').attr('x',labelX).attr('y',yy).attr('dy','0.36em').attr('text-anchor',anchor).attr('font-size',17).text(fmt(v));
  });
  minors.forEach(v=>{
    const yy=Math.round(scale(v))+0.5;
    g.append('line').attr('x1',xPos).attr('x2',xPos+minorSide*4).attr('y1',yy).attr('y2',yy).attr('stroke','#222').attr('stroke-width',1);
  });
}
const f1=d3.format('.1f');
vAxis(84, yRad, d3.range(0,1001,250), f1, d3.range(50,1000,50).filter(v=>v%250), -1, 76, 'end', 7, 1);
vAxis(PL, yTemp, d3.range(6,25,2), d3.format('d'), d3.range(7,24,2), -1, 140, 'end', 7, -1);
vAxis(PR, yHum, d3.range(0,101,25), f1, d3.range(5,100,5).filter(v=>v%25), 1, 1936, 'start', 7, 1);
vAxis(84, yWs, d3.range(0,31,5), f1, d3.range(2.5,30,5), -1, 76, 'end', 7, 1);
vAxis(PL, yDir, d3.range(0,361,90), f1, d3.range(18,360,18).filter(v=>v%90), -1, 140, 'end', 7, -1);
vAxis(PR, yP, [1005,1005.5,1006,1006.5,1007,1007.5], f1, [1005.25,1005.75,1006.25,1006.75,1007.25], 1, 1937, 'start', 7, 1);
vAxis(2010, yRain, d3.range(0,9).map(i=>i/10), f1, d3.range(0,8).map(i=>i/10+0.05), 1, 2020, 'start', 7, 1);

function xAxis(yPos, labels){
  const g=axG.append('g');
  g.append('line').attr('x1',PL).attr('x2',PR).attr('y1',yPos+0.5).attr('y2',yPos+0.5).attr('stroke','#222').attr('stroke-width',1.4);
  d3.range(0,31).forEach(i=>{
    const h=i*0.8, xx=Math.round(x(h))+0.5, major=(i%5===0);
    g.append('line').attr('x1',xx).attr('x2',xx).attr('y1',yPos).attr('y2',yPos+(major?8:4)).attr('stroke','#222').attr('stroke-width',1.2);
  });
  if(labels){
    tickHours.forEach((h,i)=>{
      g.append('text').attr('x',x(h)).attr('y',yPos+29).attr('text-anchor','middle').attr('font-size',17).text(tickTimes[i]);
      g.append('text').attr('x',x(h)).attr('y',yPos+47).attr('text-anchor','middle').attr('font-size',17).text(tickDates[i]);
    });
  }
}
xAxis(B1,false);
xAxis(B2,true);

function vTitle(xx,yy,txt){
  axG.append('text').attr('transform',`translate(${xx},${yy}) rotate(-90)`).attr('text-anchor','middle').attr('dy','0.35em').attr('font-size',16).attr('fill','#2a2a2a').text(txt);
}
vTitle(30,340,'Napsugárzás (w/m²)');
vTitle(108,327,'Hőmérséklet (°C)');
vTitle(1985,340,'Páratartalom (%)');
vTitle(30,963,'Szélsebesség (km/h)');
vTitle(108,936,'Szélirány (°)');
vTitle(1985,936,'Légnyomás (hPa)');
vTitle(2069,936,'Csapadék (mm)');

// ---------- LEGENDS ----------
function legendBox(y0,y1){
  svg.append('rect').attr('x',PL+0.5).attr('y',y0+0.5).attr('width',PR-PL-1).attr('height',y1-y0-1).attr('fill','url(#gLeg)').attr('stroke','#a8a8d0').attr('stroke-width',1);
}
legendBox(16,54);
legendBox(640,676);
const lg=svg.append('g');
function swatch(x0,cy,fill,stroke){lg.append('rect').attr('x',x0).attr('y',cy-8).attr('width',31).attr('height',16).attr('fill',fill).attr('stroke',stroke).attr('stroke-width',1);}
function lline(x0,cy,col){lg.append('line').attr('x1',x0).attr('x2',x0+30).attr('y1',cy+0.5).attr('y2',cy+0.5).attr('stroke',col).attr('stroke-width',1.7);}
function ltext(x0,cy,t){lg.append('text').attr('x',x0).attr('y',cy).attr('dy','0.36em').attr('font-size',16).text(t);}
const cy1=35;
swatch(155,cy1,'#f2f25a','#d0d070'); ltext(194,cy1,topLegend[0]);
swatch(425,cy1,'#f4a050','#d89058'); ltext(464,cy1,topLegend[1]);
swatch(609,cy1,'url(#gHumSw)','#a0b8d8'); ltext(649,cy1,topLegend[2]);
lline(758,cy1,'#e02a2a'); ltext(797,cy1,topLegend[3]);
lline(905,cy1,'#2430a8'); ltext(944,cy1,topLegend[4]);
const cy2=658;
swatch(155,cy2,'#f0a0a8','#e49aa2'); ltext(194,cy2,bottomLegend[0]);
lline(313,cy2,'#dc1c24'); ltext(353,cy2,bottomLegend[1]);
lg.append('rect').attr('x',441).attr('y',cy2-2).attr('width',4).attr('height',4).attr('fill','#dd1010');
lg.append('rect').attr('x',470).attr('y',cy2-2).attr('width',4).attr('height',4).attr('fill','#dd1010');
ltext(478,cy2,bottomLegend[2]);
lline(560,cy2,'#1f8a2a'); ltext(600,cy2,bottomLegend[3]);
swatch(696,cy2,'#8e8ef4','#7c7ce8'); ltext(736,cy2,bottomLegend[4]);
</script></body></html>
